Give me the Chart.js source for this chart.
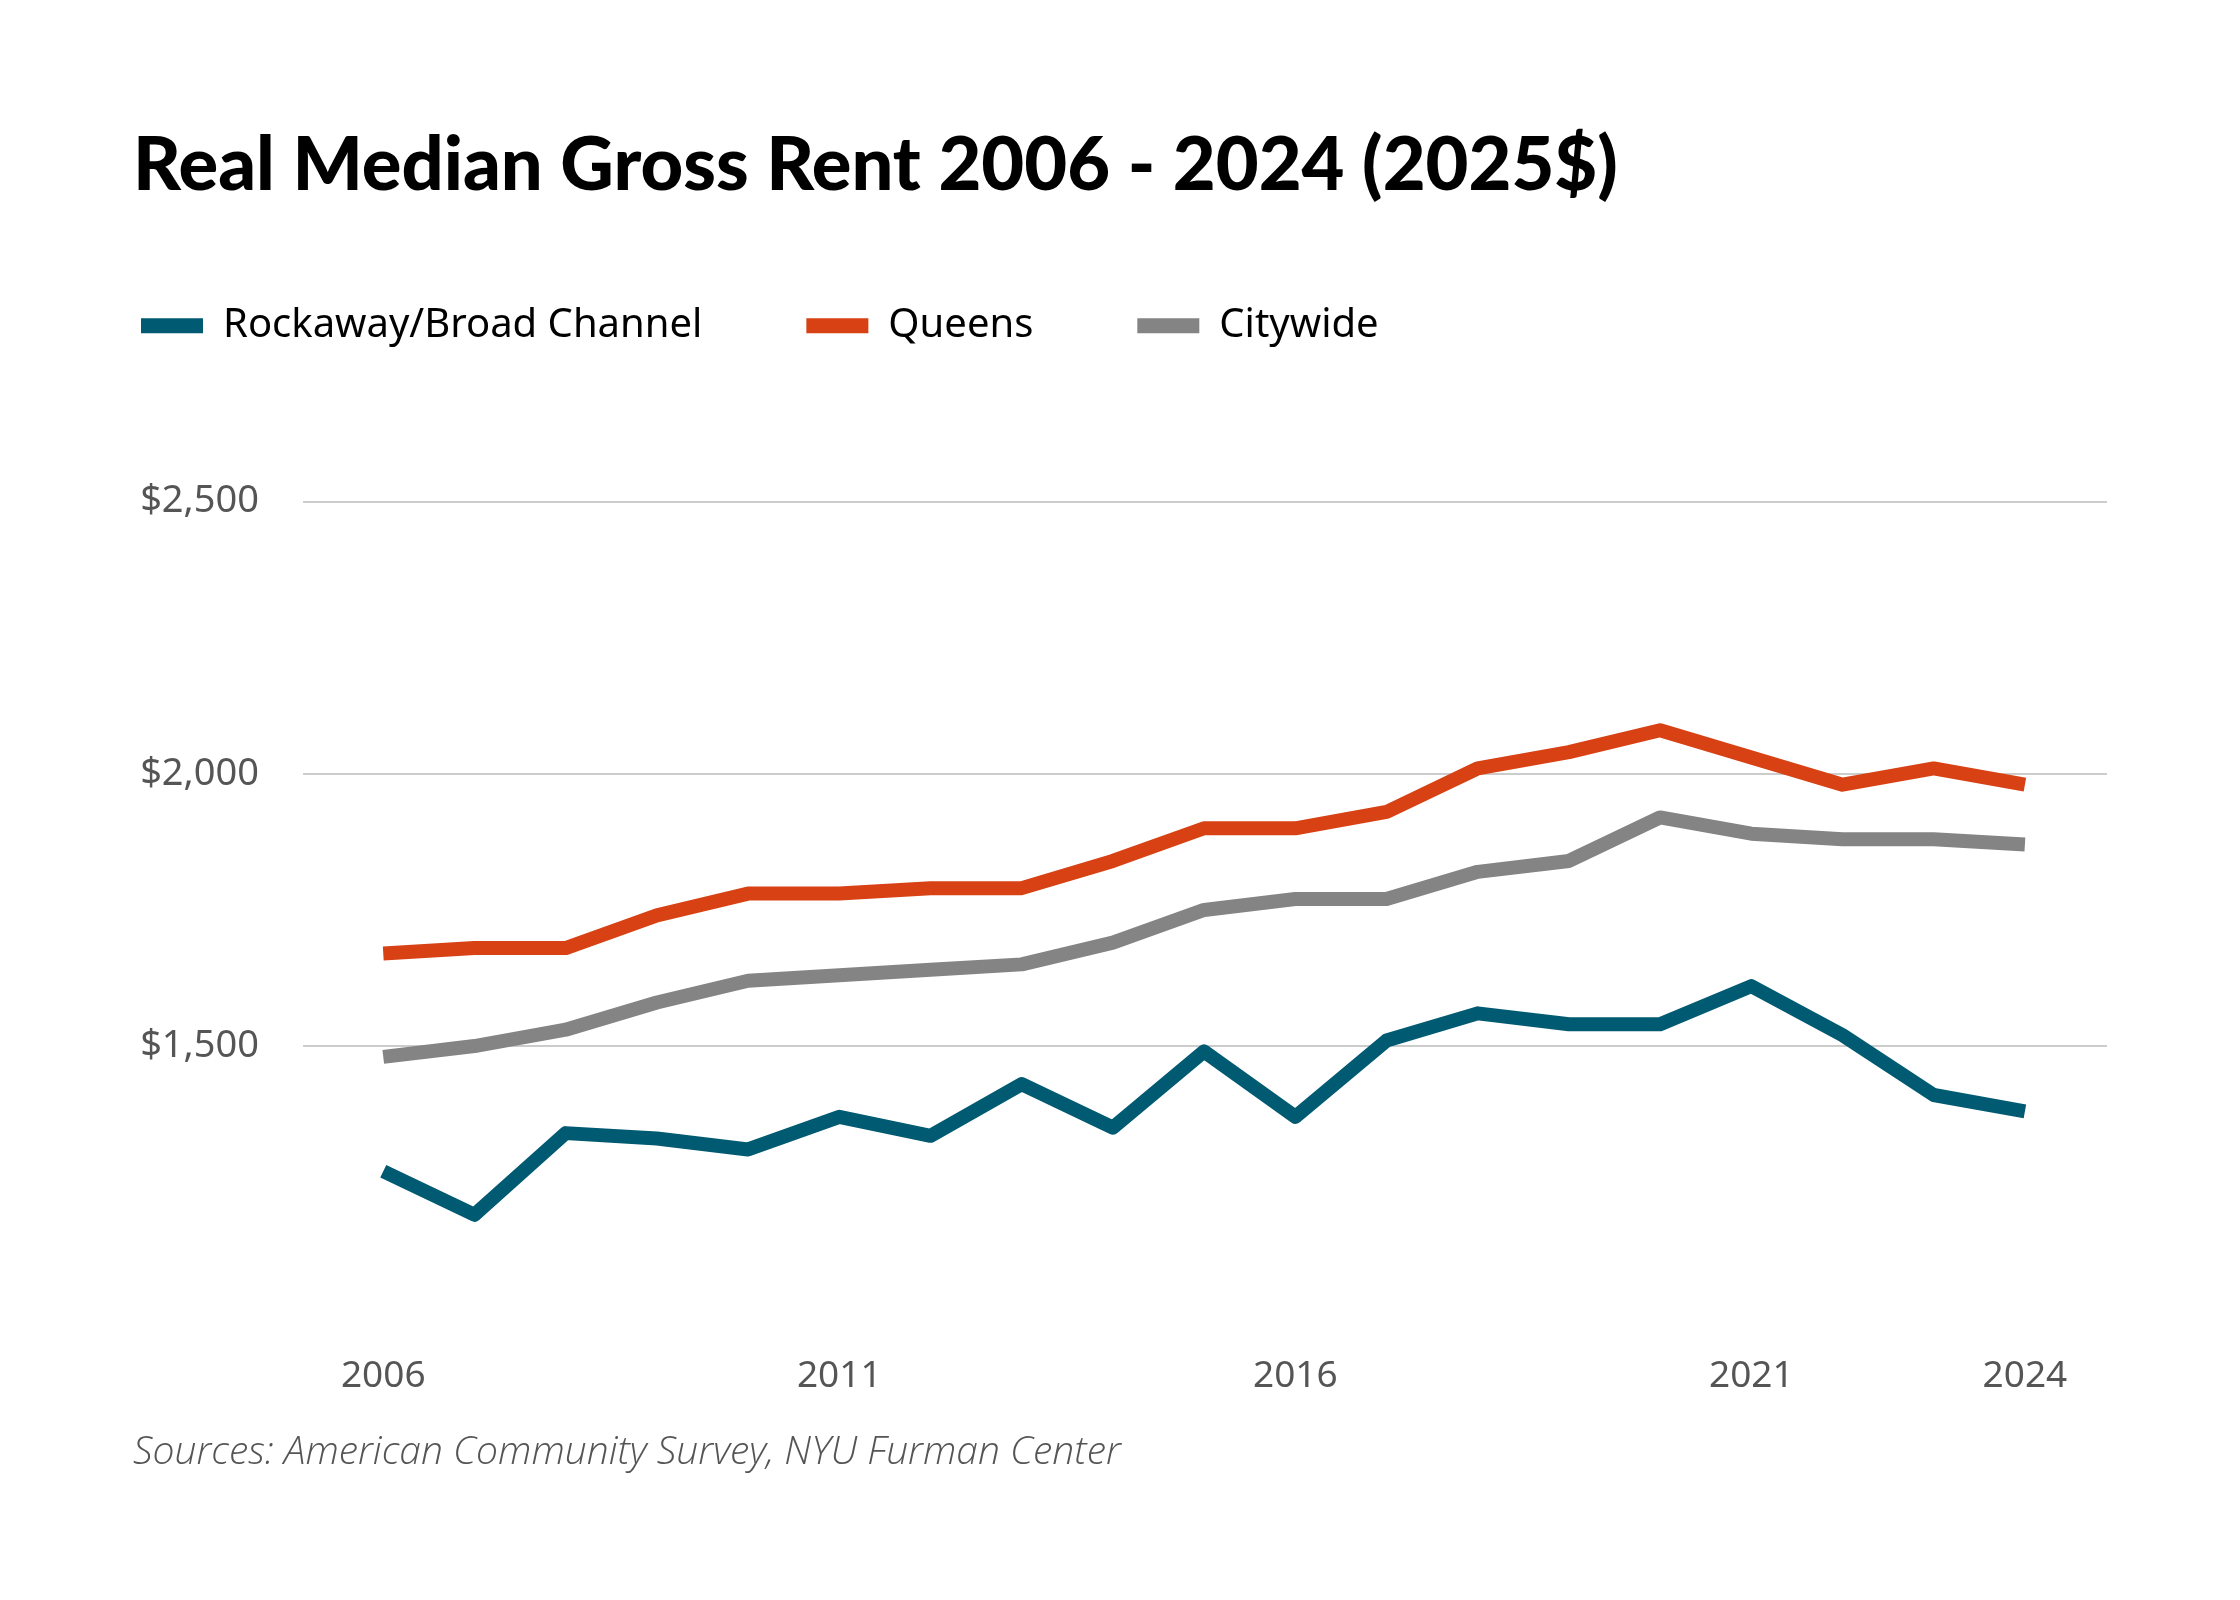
<!DOCTYPE html>
<html>
<head>
<meta charset="utf-8">
<script src="https://cdn.jsdelivr.net/npm/chart.js@4.4.1/dist/chart.umd.min.js"></script>
<style>
  html, body { margin: 0; padding: 0; background: #ffffff; }
  #wrap { width: 2240px; height: 1600px; position: relative; }
</style>
</head>
<body>
<div id="wrap"><canvas id="c"></canvas></div>
<script>
const years = [2006, 2007, 2008, 2009, 2010, 2011, 2012, 2013, 2014, 2015, 2016, 2017, 2018, 2019, 2020, 2021, 2022, 2023, 2024];
const rockaway = [1270, 1190, 1340, 1330, 1310, 1370, 1335, 1430, 1350, 1490, 1370, 1510, 1560, 1540, 1540, 1610, 1520, 1410, 1380];
const queens = [1670, 1680, 1680, 1740, 1780, 1780, 1790, 1790, 1840, 1900, 1900, 1930, 2010, 2040, 2080, 2030, 1980, 2010, 1980];
const citywide = [1480, 1500, 1530, 1580, 1620, 1630, 1640, 1650, 1690, 1750, 1770, 1770, 1820, 1840, 1920, 1890, 1880, 1880, 1870];
const seriesNames = ['Rockaway/Broad Channel', 'Queens', 'Citywide'];
const xTickYears = [2006, 2011, 2016, 2021, 2024];
const yTickValues = [1500, 2000, 2500];
const titleText = 'Real Median Gross Rent 2006 - 2024 (2025$)';
const sourceText = 'Sources: American Community Survey, NYU Furman Center';

const colors = ['#005a72', '#d74113', '#848485'];
const legendGap = 104;
const padLeft = 133;

function pts(vals) { return years.map((y, i) => ({ x: y, y: vals[i] })); }

const legendShift = {
  id: 'legendShift',
  afterLayout(chart) {
    const l = chart.legend;
    if (!l) return;
    const s = legendGap - (141 - padLeft);
    l.left -= s; l.right -= s;
  }
};

const lineStyle = (c) => ({
  borderColor: c, backgroundColor: c, borderWidth: 14,
  pointRadius: 0, pointHoverRadius: 0, tension: 0,
  borderCapStyle: 'butt', borderJoinStyle: 'round', fill: false
});

new Chart(document.getElementById('c'), {
  type: 'line',
  data: {
    datasets: [
      Object.assign({ label: seriesNames[0], data: pts(rockaway) }, lineStyle(colors[0])),
      Object.assign({ label: seriesNames[1], data: pts(queens) }, lineStyle(colors[1])),
      Object.assign({ label: seriesNames[2], data: pts(citywide) }, lineStyle(colors[2]))
    ]
  },
  options: {
    responsive: true,
    maintainAspectRatio: false,
    animation: false,
    layout: { padding: { left: padLeft, right: 133, top: 0, bottom: 124 } },
    plugins: {
      title: {
        display: true, text: titleText, align: 'start', color: '#000000',
        font: { family: 'Lato', size: 74, weight: 900, lineHeight: 0.97 },
        padding: { top: 130, bottom: 0 }
      },
      subtitle: {
        display: true, text: sourceText, position: 'bottom', align: 'start', color: '#555555',
        font: { family: 'Open Sans', size: 39, style: 'italic', weight: 300, lineHeight: 1.2 },
        padding: { top: 33, bottom: 0 }
      },
      legend: {
        display: true, position: 'top', align: 'start',
        labels: {
          boxWidth: 62, boxHeight: 15, padding: legendGap, color: '#000000',
          font: { family: 'Noto Sans', size: 40 },
          generateLabels(chart) {
            return Chart.defaults.plugins.legend.labels.generateLabels(chart).map(l => Object.assign(l, { lineWidth: 0 }));
          }
        }
      },
      tooltip: { enabled: false }
    },
    scales: {
      x: {
        type: 'linear', min: 2005.12, max: 2024.9,
        afterBuildTicks(axis) { axis.ticks = xTickYears.map(v => ({ value: v })); },
        afterFit(axis) { axis.height = 78; },
        ticks: {
          callback: (v) => String(v), color: '#555555', padding: 36, maxRotation: 0, autoSkip: false,
          font: { family: 'Noto Sans', size: 37 }
        },
        grid: { display: false, drawTicks: false },
        border: { display: false }
      },
      y: {
        type: 'linear', min: 1000, max: 2768,
        afterBuildTicks(axis) { axis.ticks = yTickValues.map(v => ({ value: v })); },
        afterFit(axis) { axis.width = 170; },
        ticks: {
          callback: (v) => '$' + v.toLocaleString('en-US'), color: '#555555', padding: 44,
          font: { family: 'Noto Sans', size: 38 }
        },
        grid: { color: '#cccccc', lineWidth: 2, drawTicks: false },
        border: { display: false }
      }
    }
  },
  plugins: [legendShift]
});
</script>
</body>
</html>
